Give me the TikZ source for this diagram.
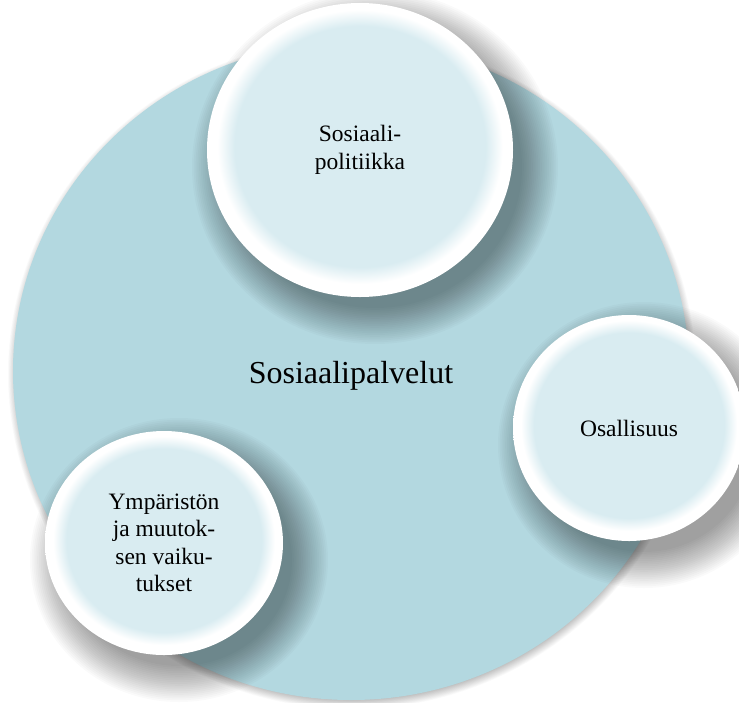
\documentclass[tikz,border=0pt]{standalone}
\usepackage{fontspec}
\setmainfont{Liberation Serif}
\usetikzlibrary{shapes.geometric}
\definecolor{bigfill}{HTML}{B3D8E0}
\definecolor{bubblein}{HTML}{D9ECF1}
\pgfdeclareradialshading{bubble}{\pgfpoint{0bp}{1bp}}{color(0bp)=(bubblein); color(20.5bp)=(bubblein); color(23.3bp)=(white); color(25bp)=(white); color(50bp)=(white)}
\newcommand\softshadow[6]{%
  \foreach \k in {0,...,20}{%
    \pgfmathsetmacro\rxx{#3-#5+#5*\k/10}%
    \pgfmathsetmacro\ryy{#4-#5+#5*\k/10}%
    \fill[black,opacity=#6] (#1,#2) ellipse [x radius=\rxx pt, y radius=\ryy pt];
  }}
\tikzset{
  bubblestyle/.style={ellipse, inner sep=0pt, shading=bubble, align=center,
    font=\fontsize{23.5}{27.5}\selectfont, text=black},
  bigstyle/.style={ellipse, inner sep=0pt, fill=bigfill},
}
\begin{document}
\begin{tikzpicture}[x=1pt,y=-1pt]
\fill[white] (0,0) rectangle (739,702);
\useasboundingbox (0,0) rectangle (739,702);
% big circle
\softshadow{352}{374}{338}{329}{6}{0.017}
\node[bigstyle, minimum width=676pt, minimum height=658pt] (big) at (351,371) {};
\node[font=\fontsize{32}{36}\selectfont, anchor=base] (lbl) at (351,383) {Sosiaalipalvelut};
% shadows of small circles
\softshadow{375}{167}{165}{159}{18}{0.019}
\softshadow{644}{445}{128}{125}{18}{0.019}
\softshadow{179}{560}{131}{124}{18}{0.019}
% small circles
\node[bubblestyle, minimum width=306pt, minimum height=294pt] (top) at (360,150) {Sosiaali-\\politiikka};
\node[bubblestyle, minimum width=232pt, minimum height=226pt] (right) at (629,428) {Osallisuus};
\node[bubblestyle, minimum width=238pt, minimum height=224pt] (left) at (164,543) {Ympäristön\\ja muutok-\\sen vaiku-\\tukset};
\end{tikzpicture}
\end{document}
